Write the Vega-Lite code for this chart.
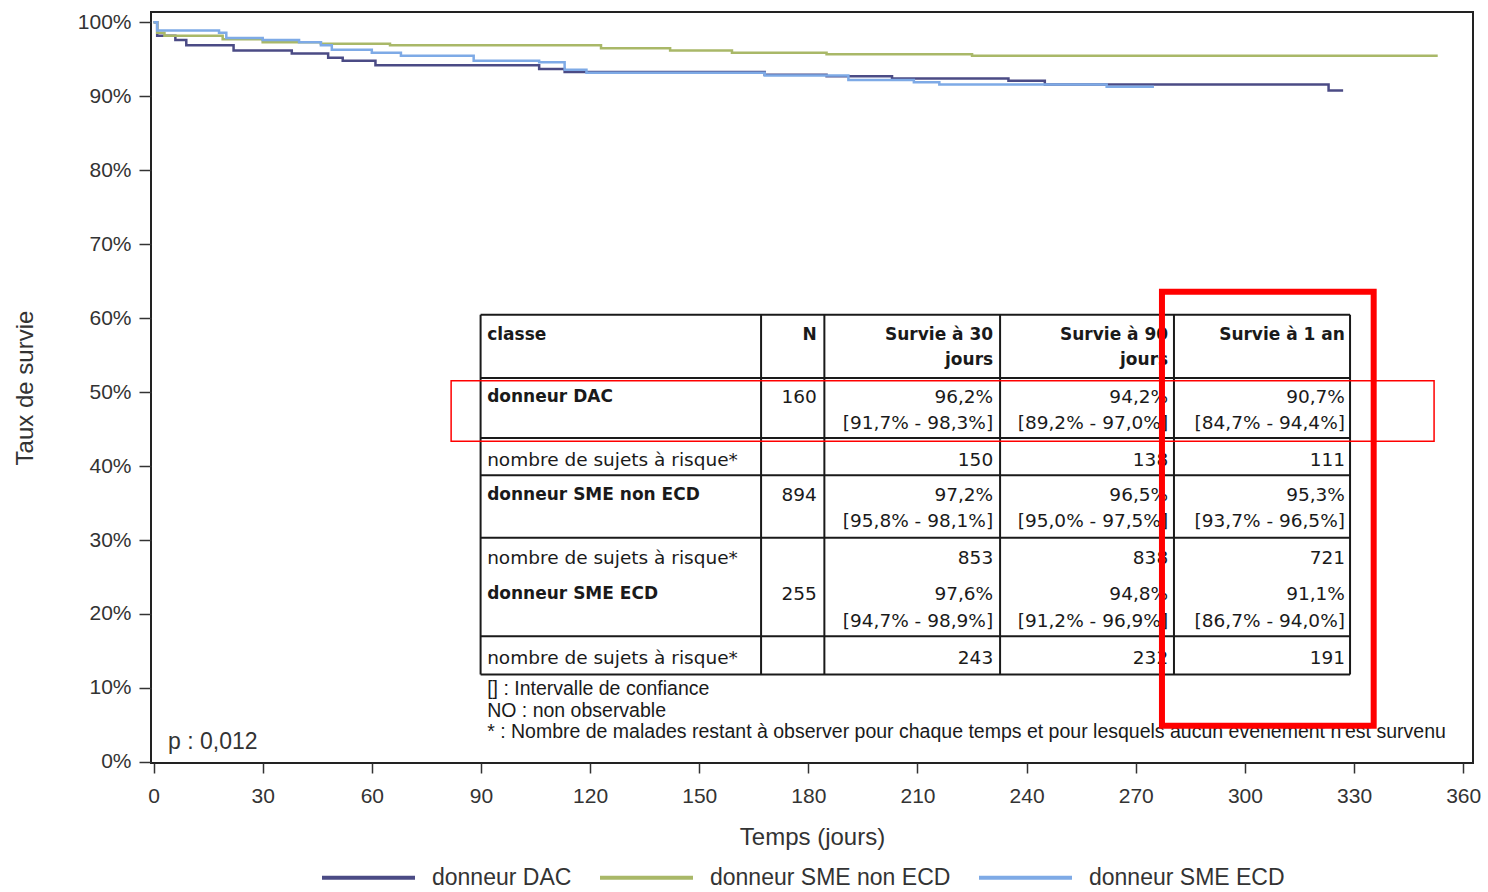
{
  "$schema": "https://vega.github.io/schema/vega-lite/v6.json",
  "width": 1322,
  "height": 751,
  "autosize": {"type": "none"},
  "padding": {"left": 151, "top": 12, "right": 15, "bottom": 129},
  "background": "white",
  "config": {
    "view": {"stroke": "#222", "strokeWidth": 2},
    "font": "Liberation Sans"
  },
  "datasets": {
    "curves": [
      {"g": "donneur DAC", "t": 0, "pct": 100},
      {"g": "donneur DAC", "t": 1, "pct": 98.2},
      {"g": "donneur DAC", "t": 6, "pct": 97.6},
      {"g": "donneur DAC", "t": 9, "pct": 96.9},
      {"g": "donneur DAC", "t": 22, "pct": 96.2},
      {"g": "donneur DAC", "t": 38, "pct": 95.8},
      {"g": "donneur DAC", "t": 48, "pct": 95.2},
      {"g": "donneur DAC", "t": 52, "pct": 94.8},
      {"g": "donneur DAC", "t": 61, "pct": 94.2},
      {"g": "donneur DAC", "t": 106, "pct": 93.7},
      {"g": "donneur DAC", "t": 113, "pct": 93.3},
      {"g": "donneur DAC", "t": 168, "pct": 92.9},
      {"g": "donneur DAC", "t": 185, "pct": 92.7},
      {"g": "donneur DAC", "t": 203, "pct": 92.4},
      {"g": "donneur DAC", "t": 235, "pct": 92.1},
      {"g": "donneur DAC", "t": 245, "pct": 91.6},
      {"g": "donneur DAC", "t": 323, "pct": 90.8},
      {"g": "donneur DAC", "t": 327, "pct": 90.8},
      {"g": "donneur SME non ECD", "t": 0, "pct": 100},
      {"g": "donneur SME non ECD", "t": 1, "pct": 98.6},
      {"g": "donneur SME non ECD", "t": 3, "pct": 98.2},
      {"g": "donneur SME non ECD", "t": 19, "pct": 97.7},
      {"g": "donneur SME non ECD", "t": 30, "pct": 97.3},
      {"g": "donneur SME non ECD", "t": 46, "pct": 97.1},
      {"g": "donneur SME non ECD", "t": 65, "pct": 96.9},
      {"g": "donneur SME non ECD", "t": 123, "pct": 96.5},
      {"g": "donneur SME non ECD", "t": 142, "pct": 96.2},
      {"g": "donneur SME non ECD", "t": 159, "pct": 95.9},
      {"g": "donneur SME non ECD", "t": 185, "pct": 95.7},
      {"g": "donneur SME non ECD", "t": 225, "pct": 95.5},
      {"g": "donneur SME non ECD", "t": 353, "pct": 95.5},
      {"g": "donneur SME ECD", "t": 0, "pct": 100},
      {"g": "donneur SME ECD", "t": 1, "pct": 98.9},
      {"g": "donneur SME ECD", "t": 18, "pct": 98.6},
      {"g": "donneur SME ECD", "t": 20, "pct": 97.9},
      {"g": "donneur SME ECD", "t": 30, "pct": 97.6},
      {"g": "donneur SME ECD", "t": 40, "pct": 97.3},
      {"g": "donneur SME ECD", "t": 46, "pct": 96.9},
      {"g": "donneur SME ECD", "t": 49, "pct": 96.3},
      {"g": "donneur SME ECD", "t": 60, "pct": 95.9},
      {"g": "donneur SME ECD", "t": 68, "pct": 95.5},
      {"g": "donneur SME ECD", "t": 88, "pct": 94.8},
      {"g": "donneur SME ECD", "t": 106, "pct": 94.6},
      {"g": "donneur SME ECD", "t": 113, "pct": 93.6},
      {"g": "donneur SME ECD", "t": 119, "pct": 93.2},
      {"g": "donneur SME ECD", "t": 168, "pct": 92.8},
      {"g": "donneur SME ECD", "t": 191, "pct": 92.2},
      {"g": "donneur SME ECD", "t": 209, "pct": 91.9},
      {"g": "donneur SME ECD", "t": 216, "pct": 91.6},
      {"g": "donneur SME ECD", "t": 262, "pct": 91.3},
      {"g": "donneur SME ECD", "t": 275, "pct": 91.3}
    ],
    "grid": [
      {"t": 89.9, "t2": 328.9, "pct": 60.47, "pct2": 60.47},
      {"t": 89.9, "t2": 328.9, "pct": 51.92, "pct2": 51.92},
      {"t": 89.9, "t2": 328.9, "pct": 43.81, "pct2": 43.81},
      {"t": 89.9, "t2": 328.9, "pct": 38.76, "pct2": 38.76},
      {"t": 89.9, "t2": 328.9, "pct": 30.3, "pct2": 30.3},
      {"t": 89.9, "t2": 328.9, "pct": 17.0, "pct2": 17.0},
      {"t": 89.9, "t2": 328.9, "pct": 11.82, "pct2": 11.82},
      {"t": 89.9, "t2": 89.9, "pct": 11.82, "pct2": 60.47},
      {"t": 167.0, "t2": 167.0, "pct": 11.82, "pct2": 60.47},
      {"t": 184.4, "t2": 184.4, "pct": 11.82, "pct2": 60.47},
      {"t": 232.7, "t2": 232.7, "pct": 11.82, "pct2": 60.47},
      {"t": 280.5, "t2": 280.5, "pct": 11.82, "pct2": 60.47},
      {"t": 328.9, "t2": 328.9, "pct": 11.82, "pct2": 60.47}
    ],
    "cells": [
      {"k": "lb", "t": 91.7, "pct": 57.77, "txt": "classe"},
      {"k": "lb", "t": 91.7, "pct": 49.35, "txt": "donneur DAC"},
      {"k": "lb", "t": 91.7, "pct": 36.15, "txt": "donneur SME non ECD"},
      {"k": "lb", "t": 91.7, "pct": 22.64, "txt": "donneur SME ECD"},
      {"k": "rb", "t": 182.3, "pct": 57.77, "txt": "N"},
      {"k": "rb", "t": 230.8, "pct": 57.77, "txt": "Survie à 30"},
      {"k": "rb", "t": 230.8, "pct": 54.3, "txt": "jours"},
      {"k": "rb", "t": 278.9, "pct": 57.77, "txt": "Survie à 90"},
      {"k": "rb", "t": 278.9, "pct": 54.3, "txt": "jours"},
      {"k": "rb", "t": 327.5, "pct": 57.77, "txt": "Survie à 1 an"},
      {"k": "l", "t": 91.7, "pct": 40.88, "txt": "nombre de sujets à risque*"},
      {"k": "l", "t": 91.7, "pct": 27.59, "txt": "nombre de sujets à risque*"},
      {"k": "l", "t": 91.7, "pct": 14.08, "txt": "nombre de sujets à risque*"},
      {"k": "r", "t": 182.3, "pct": 49.35, "txt": "160"},
      {"k": "r", "t": 182.3, "pct": 36.15, "txt": "894"},
      {"k": "r", "t": 182.3, "pct": 22.64, "txt": "255"},
      {"k": "r", "t": 230.8, "pct": 49.35, "txt": "96,2%"},
      {"k": "r", "t": 230.8, "pct": 45.84, "txt": "[91,7% - 98,3%]"},
      {"k": "r", "t": 230.8, "pct": 40.88, "txt": "150"},
      {"k": "r", "t": 230.8, "pct": 36.15, "txt": "97,2%"},
      {"k": "r", "t": 230.8, "pct": 32.54, "txt": "[95,8% - 98,1%]"},
      {"k": "r", "t": 230.8, "pct": 27.59, "txt": "853"},
      {"k": "r", "t": 230.8, "pct": 22.64, "txt": "97,6%"},
      {"k": "r", "t": 230.8, "pct": 19.03, "txt": "[94,7% - 98,9%]"},
      {"k": "r", "t": 230.8, "pct": 14.08, "txt": "243"},
      {"k": "r", "t": 278.9, "pct": 49.35, "txt": "94,2%"},
      {"k": "r", "t": 278.9, "pct": 45.84, "txt": "[89,2% - 97,0%]"},
      {"k": "r", "t": 278.9, "pct": 40.88, "txt": "138"},
      {"k": "r", "t": 278.9, "pct": 36.15, "txt": "96,5%"},
      {"k": "r", "t": 278.9, "pct": 32.54, "txt": "[95,0% - 97,5%]"},
      {"k": "r", "t": 278.9, "pct": 27.59, "txt": "838"},
      {"k": "r", "t": 278.9, "pct": 22.64, "txt": "94,8%"},
      {"k": "r", "t": 278.9, "pct": 19.03, "txt": "[91,2% - 96,9%]"},
      {"k": "r", "t": 278.9, "pct": 14.08, "txt": "232"},
      {"k": "r", "t": 327.5, "pct": 49.35, "txt": "90,7%"},
      {"k": "r", "t": 327.5, "pct": 45.84, "txt": "[84,7% - 94,4%]"},
      {"k": "r", "t": 327.5, "pct": 40.88, "txt": "111"},
      {"k": "r", "t": 327.5, "pct": 36.15, "txt": "95,3%"},
      {"k": "r", "t": 327.5, "pct": 32.54, "txt": "[93,7% - 96,5%]"},
      {"k": "r", "t": 327.5, "pct": 27.59, "txt": "721"},
      {"k": "r", "t": 327.5, "pct": 22.64, "txt": "91,1%"},
      {"k": "r", "t": 327.5, "pct": 19.03, "txt": "[86,7% - 94,0%]"},
      {"k": "r", "t": 327.5, "pct": 14.08, "txt": "191"}
    ],
    "notes": [
      {"k": "fn", "t": 91.7, "pct": 9.8, "txt": "[] : Intervalle de confiance"},
      {"k": "fn", "t": 91.7, "pct": 6.9, "txt": "NO : non observable"},
      {"k": "fn", "t": 91.7, "pct": 4.0, "txt": "* : Nombre de malades restant à observer pour chaque temps et pour lesquels aucun évènement n'est survenu"},
      {"k": "p", "t": 4.0, "pct": 2.65, "txt": "p : 0,012"}
    ],
    "boxes": [
      {"b": "thin", "t": 81.8, "t2": 352.0, "pct": 51.55, "pct2": 43.35},
      {"b": "thick", "t": 277.2, "t2": 335.4, "pct": 63.58, "pct2": 4.89}
    ]
  },
  "encoding": {
    "x": {
      "field": "t",
      "type": "quantitative",
      "scale": {"domain": [-0.7, 362.7], "nice": false, "zero": false},
      "axis": {
        "title": "Temps (jours)",
        "values": [0, 30, 60, 90, 120, 150, 180, 210, 240, 270, 300, 330, 360],
        "grid": false,
        "domain": false,
        "tickSize": 10,
        "tickWidth": 1.5,
        "tickColor": "#333",
        "labelFontSize": 21,
        "labelColor": "#333",
        "labelPadding": 12,
        "titleFontSize": 24,
        "titleFontWeight": "normal",
        "titleColor": "#333",
        "titlePadding": 19
      }
    },
    "y": {
      "field": "pct",
      "type": "quantitative",
      "scale": {"domain": [-0.15, 101.4], "nice": false, "zero": false},
      "axis": {
        "title": "Taux de survie",
        "values": [0, 10, 20, 30, 40, 50, 60, 70, 80, 90, 100],
        "labelExpr": "datum.value + '%'",
        "grid": false,
        "domain": false,
        "tickSize": 12,
        "tickWidth": 1.5,
        "tickColor": "#333",
        "labelFontSize": 21,
        "labelColor": "#333",
        "labelPadding": 8,
        "titleFontSize": 24,
        "titleFontWeight": "normal",
        "titleColor": "#333",
        "titlePadding": 40
      }
    }
  },
  "layer": [
    {
      "data": {"name": "curves"},
      "mark": {"type": "line", "interpolate": "step-after", "strokeWidth": 2.5},
      "encoding": {
        "color": {
          "field": "g",
          "type": "nominal",
          "scale": {
            "domain": ["donneur DAC", "donneur SME non ECD", "donneur SME ECD"],
            "range": ["#4b4b85", "#a9b868", "#7eaae6"]
          },
          "legend": {
            "title": null,
            "orient": "none",
            "legendX": 169,
            "legendY": 817,
            "direction": "horizontal",
            "symbolType": "stroke",
            "symbolSize": 8649,
            "symbolStrokeWidth": 4,
            "labelFontSize": 23,
            "labelColor": "#333",
            "labelLimit": 400,
            "labelOffset": 15,
            "columnPadding": 20
          }
        }
      }
    },
    {
      "data": {"name": "grid"},
      "mark": {"type": "rule", "color": "#1a1a1a", "strokeWidth": 2},
      "encoding": {
        "x2": {"field": "t2"},
        "y2": {"field": "pct2"}
      }
    },
    {
      "data": {"name": "cells"},
      "transform": [{"filter": "datum.k == 'lb'"}],
      "mark": {"type": "text", "align": "left", "baseline": "middle", "font": "DejaVu Sans", "fontSize": 17, "fontWeight": "bold", "color": "#1a1a1a"},
      "encoding": {"text": {"field": "txt"}}
    },
    {
      "data": {"name": "cells"},
      "transform": [{"filter": "datum.k == 'rb'"}],
      "mark": {"type": "text", "align": "right", "baseline": "middle", "font": "DejaVu Sans", "fontSize": 17, "fontWeight": "bold", "color": "#1a1a1a"},
      "encoding": {"text": {"field": "txt"}}
    },
    {
      "data": {"name": "cells"},
      "transform": [{"filter": "datum.k == 'l'"}],
      "mark": {"type": "text", "align": "left", "baseline": "middle", "font": "DejaVu Sans", "fontSize": 18.5, "color": "#1a1a1a"},
      "encoding": {"text": {"field": "txt"}}
    },
    {
      "data": {"name": "cells"},
      "transform": [{"filter": "datum.k == 'r'"}],
      "mark": {"type": "text", "align": "right", "baseline": "middle", "font": "DejaVu Sans", "fontSize": 18.5, "color": "#1a1a1a"},
      "encoding": {"text": {"field": "txt"}}
    },
    {
      "data": {"name": "notes"},
      "transform": [{"filter": "datum.k == 'fn'"}],
      "mark": {"type": "text", "align": "left", "baseline": "middle", "font": "Liberation Sans", "fontSize": 19.5, "color": "#1a1a1a"},
      "encoding": {"text": {"field": "txt"}}
    },
    {
      "data": {"name": "notes"},
      "transform": [{"filter": "datum.k == 'p'"}],
      "mark": {"type": "text", "align": "left", "baseline": "middle", "font": "Liberation Sans", "fontSize": 23, "color": "#333"},
      "encoding": {"text": {"field": "txt"}}
    },
    {
      "data": {"name": "boxes"},
      "transform": [{"filter": "datum.b == 'thin'"}],
      "mark": {"type": "rect", "fill": null, "fillOpacity": 0, "stroke": "#ff0000", "strokeWidth": 1.5},
      "encoding": {
        "x2": {"field": "t2"},
        "y2": {"field": "pct2"}
      }
    },
    {
      "data": {"name": "boxes"},
      "transform": [{"filter": "datum.b == 'thick'"}],
      "mark": {"type": "rect", "fill": null, "fillOpacity": 0, "stroke": "#ff0000", "strokeWidth": 6},
      "encoding": {
        "x2": {"field": "t2"},
        "y2": {"field": "pct2"}
      }
    }
  ]
}
